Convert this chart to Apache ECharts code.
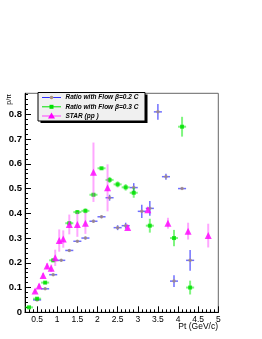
<!DOCTYPE html>
<html>
<head>
<meta charset="utf-8">
<script src="https://cdn.jsdelivr.net/npm/echarts@6/dist/echarts.min.js"></script>
<style>html,body{margin:0;padding:0;background:#fff;}#c{width:262px;height:339px;}</style>
</head>
<body>
<div id="c"></div>
<script>
// ---- data ----
var blueX = [0.5,0.7,0.9,1.1,1.3,1.5,1.7,1.9,2.1,2.3,2.5,2.7,2.9,3.1,3.3,3.5,3.7,3.9,4.1,4.3];
var blueY = [0.05,0.095,0.152,0.21,0.25,0.287,0.30,0.368,0.386,0.463,0.342,0.35,0.504,0.408,0.42,0.81,0.548,0.126,0.50,0.21];
var blueEY = [0.004,0.005,0.005,0.005,0.005,0.005,0.006,0.006,0.006,0.012,0.01,0.012,0.018,0.027,0.03,0.032,0.012,0.024,0.005,0.042];
var blueEX = 0.1;

var greenX = [0.3,0.5,0.7,0.9,1.3,1.5,1.7,1.9,2.1,2.3,2.5,2.7,2.9,3.3,3.9,4.1,4.3];
var greenY = [0.02,0.055,0.12,0.21,0.36,0.405,0.41,0.475,0.582,0.535,0.517,0.505,0.483,0.35,0.30,0.75,0.10];
var greenEY = [0.004,0.005,0.006,0.007,0.008,0.008,0.01,0.008,0.006,0.012,0.012,0.013,0.02,0.028,0.033,0.04,0.028];
var greenEX = 0.1;

var pinkX = [0.45,0.55,0.65,0.75,0.85,0.95,1.05,1.15,1.3,1.5,1.7,1.9,2.25,2.75,3.25,3.75,4.25,4.75];
var pinkY = [0.086,0.106,0.149,0.187,0.178,0.22,0.29,0.296,0.355,0.355,0.36,0.566,0.503,0.343,0.414,0.36,0.328,0.31];
var pinkEY = [0.008,0.01,0.01,0.012,0.015,0.033,0.045,0.035,0.04,0.05,0.043,0.12,0.095,0.01,0.01,0.022,0.034,0.048];

var xTicks = [0.5,1,1.5,2,2.5,3,3.5,4,4.5,5];
var yTicks = [0,0.1,0.2,0.3,0.4,0.5,0.6,0.7,0.8];
var seriesNames = ['Ratio with Flow \u03b2=0.2 C','Ratio with Flow \u03b2=0.3 C','STAR (pp )'];
var xTitle = 'Pt (GeV/c)';
var yTitle = 'p/\u03c0';

// ---- build ----
function pts(xs, ys, ex, ey){ return xs.map(function(x,i){ return [x, ys[i], ex, ey[i]]; }); }
function minorVals(a, b, step){ var r=[]; for (var v=a; v<=b+1e-9; v+=step) r.push(+v.toFixed(3)); return r; }

function errRender(color, width){
  return function(params, api){
    var x = api.value(0), y = api.value(1), ex = api.value(2), ey = api.value(3);
    var children = [];
    var c1 = api.coord([x, y - ey]), c2 = api.coord([x, y + ey]);
    children.push({type:'line', shape:{x1:c1[0],y1:c1[1],x2:c2[0],y2:c2[1]}, style:{stroke:color, lineWidth:width}});
    if (ex > 0){
      var h1 = api.coord([x - ex, y]), h2 = api.coord([x + ex, y]);
      children.push({type:'line', shape:{x1:h1[0],y1:h1[1],x2:h2[0],y2:h2[1]}, style:{stroke:color, lineWidth:width}});
    }
    return {type:'group', children:children};
  };
}

var blueErrColor = 'rgba(50,50,255,0.7)';
var greenErrColor = 'rgba(0,235,0,0.5)';
var pinkErrColor = 'rgba(255,60,255,0.45)';

var chart = echarts.init(document.getElementById('c'), null, {renderer:'canvas'});
var grid = {left:25, right:43.7, top:93.3, bottom:26.7, show:true, borderColor:'#666', borderWidth:1, backgroundColor:'transparent'};
var axFont = 'Liberation Sans';

var option = {
  animation:false,
  backgroundColor:'#fff',
  grid: grid,
  xAxis: [{
    type:'value', min:0.2, max:5, gridIndex:0,
    axisLine:{show:true, lineStyle:{color:'#000', width:1}},
    axisTick:{show:true, inside:true, length:6, customValues:xTicks, lineStyle:{color:'#000'}},
    axisLabel:{show:true, customValues:xTicks, margin:3, fontSize:8.5, fontFamily:axFont, color:'#000',
      formatter:function(v){ return String(+v.toFixed(1)); }},
    splitLine:{show:false}
  },{
    type:'value', min:0.2, max:5, gridIndex:0, position:'bottom',
    axisLine:{show:false},
    axisTick:{show:true, inside:true, length:3, customValues:minorVals(0.2,5,0.1), lineStyle:{color:'#000'}},
    axisLabel:{show:false}, splitLine:{show:false}
  }],
  yAxis: [{
    type:'value', min:0, max:0.885, gridIndex:0,
    axisLine:{show:true, lineStyle:{color:'#000', width:1}},
    axisTick:{show:true, inside:true, length:6, customValues:yTicks, lineStyle:{color:'#000'}},
    axisLabel:{show:true, customValues:yTicks, margin:3, fontSize:9.5, fontWeight:'bold', fontFamily:axFont, color:'#000',
      formatter:function(v){ return String(+v.toFixed(1)); }},
    splitLine:{show:false}
  },{
    type:'value', min:0, max:0.885, gridIndex:0, position:'left',
    axisLine:{show:false},
    axisTick:{show:true, inside:true, length:3, customValues:minorVals(0,0.88,0.02), lineStyle:{color:'#000'}},
    axisLabel:{show:false}, splitLine:{show:false}
  }],
  series: [
    {type:'custom', name:seriesNames[0]+' err', renderItem:errRender(blueErrColor,1.5), data:pts(blueX,blueY,blueEX,blueEY), z:2, silent:true},
    {type:'scatter', name:seriesNames[0], data:blueX.map(function(x,i){return [x,blueY[i]];}), symbol:'circle', symbolSize:3.5,
      itemStyle:{color:'#a8907c'}, z:3},
    {type:'custom', name:seriesNames[1]+' err', renderItem:errRender(greenErrColor,2), data:pts(greenX,greenY,greenEX,greenEY), z:4, silent:true},
    {type:'scatter', name:seriesNames[1], data:greenX.map(function(x,i){return [x,greenY[i]];}), symbol:'rect', symbolSize:4,
      itemStyle:{color:'#00e000'}, z:5},
    {type:'custom', name:seriesNames[2]+' err', renderItem:errRender(pinkErrColor,2), data:pts(pinkX,pinkY,0,pinkEY), z:6, silent:true},
    {type:'scatter', name:seriesNames[2], data:pinkX.map(function(x,i){return [x,pinkY[i]];}), symbol:'triangle', symbolSize:7,
      itemStyle:{color:'#ff00ff'}, z:7}
  ],
  graphic: [
    {type:'text', left:'auto', x:218, y:322, style:{text:xTitle, fontSize:8.5, fontFamily:axFont, fill:'#000', align:'right', verticalAlign:'top'}, z:100},
    {type:'text', x:6, y:94, rotation:Math.PI/2, style:{text:yTitle, fontSize:7, fontFamily:axFont, fill:'#000', align:'right', verticalAlign:'top'}, z:100},
    // legend
    {type:'rect', shape:{x:40.5, y:94.5, width:107, height:28.5}, style:{fill:'#000'}, z:50},
    {type:'rect', shape:{x:38, y:92.5, width:107, height:28.5}, style:{fill:'#f0f0f0', stroke:'#000', lineWidth:1}, z:51},
    {type:'line', shape:{x1:42, y1:97.5, x2:61, y2:97.5}, style:{stroke:'#3030ff', lineWidth:1}, z:52},
    {type:'circle', shape:{cx:51.5, cy:97.5, r:1.8}, style:{fill:'#a8907c'}, z:53},
    {type:'line', shape:{x1:42, y1:106.8, x2:61, y2:106.8}, style:{stroke:'#00e000', lineWidth:1}, z:52},
    {type:'rect', shape:{x:49.5, y:104.8, width:4, height:4}, style:{fill:'#00e000'}, z:53},
    {type:'line', shape:{x1:42, y1:116, x2:61, y2:116}, style:{stroke:'#ff40ff', lineWidth:1}, z:52},
    {type:'polygon', shape:{points:[[51.5,112.5],[55,118.5],[48,118.5]]}, style:{fill:'#ff00ff'}, z:53},
    {type:'text', x:65.5, y:97.5, style:{text:seriesNames[0], fontSize:6.5, fontWeight:'bold', fontStyle:'italic', fontFamily:axFont, fill:'#000', verticalAlign:'middle'}, z:54},
    {type:'text', x:65.5, y:106.8, style:{text:seriesNames[1], fontSize:6.5, fontWeight:'bold', fontStyle:'italic', fontFamily:axFont, fill:'#000', verticalAlign:'middle'}, z:54},
    {type:'text', x:65.5, y:116, style:{text:seriesNames[2], fontSize:6.5, fontWeight:'bold', fontStyle:'italic', fontFamily:axFont, fill:'#000', verticalAlign:'middle'}, z:54}
  ]
};
chart.setOption(option);
</script>
</body>
</html>
